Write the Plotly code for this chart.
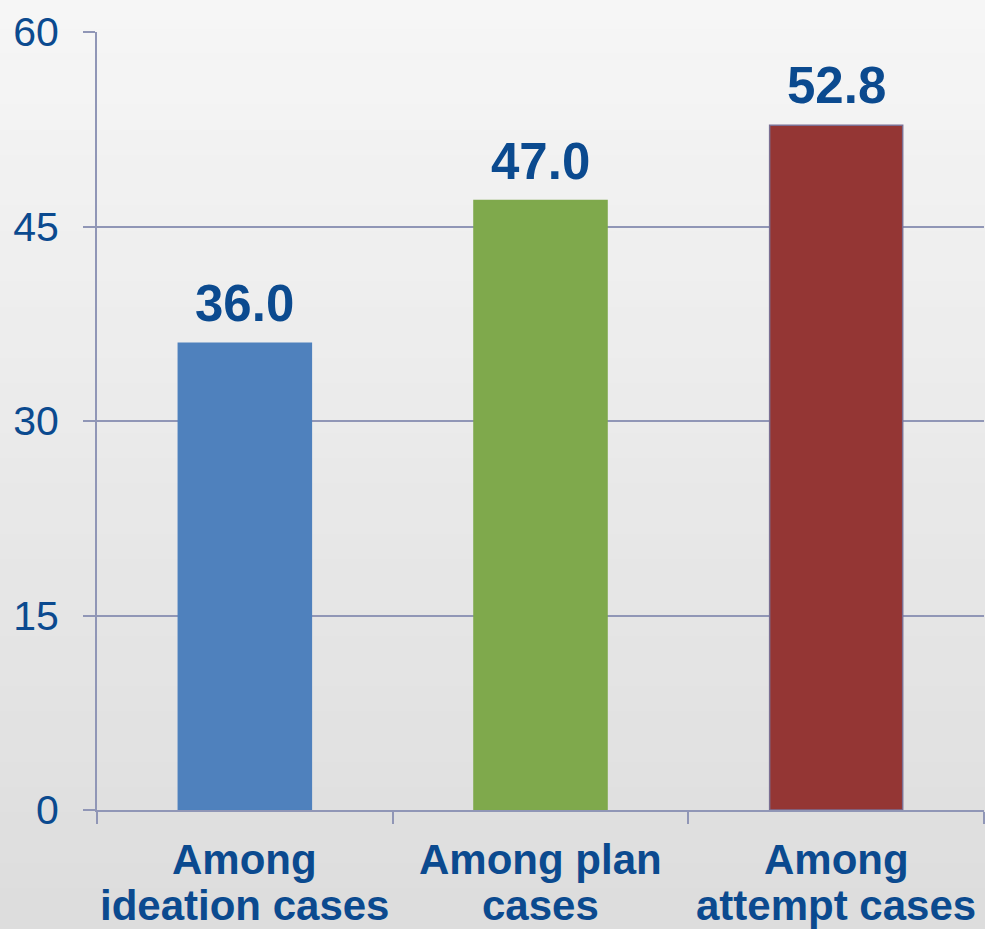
import plotly.graph_objects as go

# data
categories = ["Among<br>ideation cases", "Among plan<br>cases", "Among<br>attempt cases"]
values = [36.0, 47.0, 52.8]
bar_colors = ["#4f81bd", "#7fa94c", "#943634"]
y_ticks = [0, 15, 30, 45, 60]

text_blue = "#0b4a8f"
grid_col = "#9096b6"

fig = go.Figure()
fig.add_trace(go.Bar(
    x=categories, y=values,
    marker=dict(color=bar_colors, line=dict(color=["#4f81bd", "#7fa94c", "#7b6f93"], width=1.5)),
    width=0.45, showlegend=False, hoverinfo="skip",
))

# value labels above bars
for cat, v in zip(categories, values):
    fig.add_annotation(x=cat, y=v, xref="x", yref="y", text=f"<b>{v:.1f}</b>",
                       showarrow=False, yanchor="bottom", yshift=9,
                       font=dict(size=51, color=text_blue, family="Liberation Sans, Arial"))

# category labels, one annotation per line to control spacing
for cat in categories:
    for j, line in enumerate(cat.split("<br>")):
        fig.add_annotation(x=cat, y=0, xref="x", yref="paper", text=f"<b>{line}</b>",
                           showarrow=False, yanchor="top", yshift=-24 - 46 * j,
                           font=dict(size=42, color=text_blue, family="Liberation Sans, Arial"))

# soft vertical gradient background
n = 40
for k in range(n):
    t = k / (n - 1)
    g = int(round(247 - (247 - 220) * t))
    fig.add_shape(type="rect", xref="paper", yref="paper",
                  x0=-0.2, x1=1.2, y0=1.1 - (k + 1) * 1.3 / n, y1=1.1 - k * 1.3 / n + 0.002,
                  fillcolor=f"rgb({g},{g},{g})", line=dict(width=0), layer="below")

fig.update_layout(
    width=985, height=929,
    margin=dict(l=97, r=1, t=32, b=119),
    paper_bgcolor="#ebebeb", plot_bgcolor="rgba(0,0,0,0)",
    font=dict(family="Liberation Sans, Arial", color=text_blue),
    bargap=0.55,
)
fig.update_xaxes(
    type="category", showticklabels=False,
    showgrid=False, showline=True, linecolor=grid_col, linewidth=2,
    ticks="outside", tickson="boundaries", ticklen=12, tickwidth=2, tickcolor=grid_col,
    zeroline=False,
)
fig.update_yaxes(
    range=[0, 60], tickvals=y_ticks, showgrid=True, gridcolor=grid_col, gridwidth=2,
    showline=True, linecolor=grid_col, linewidth=2,
    ticks="outside", ticklen=12, tickwidth=2, tickcolor=grid_col,
    tickfont=dict(size=41, color=text_blue), ticklabelstandoff=16, zeroline=False,
)

# drop the default page margin so the figure fills the window
fig.write_html("out.html", config={"displayModeBar": False},
               post_script="document.body.style.margin='0';")
